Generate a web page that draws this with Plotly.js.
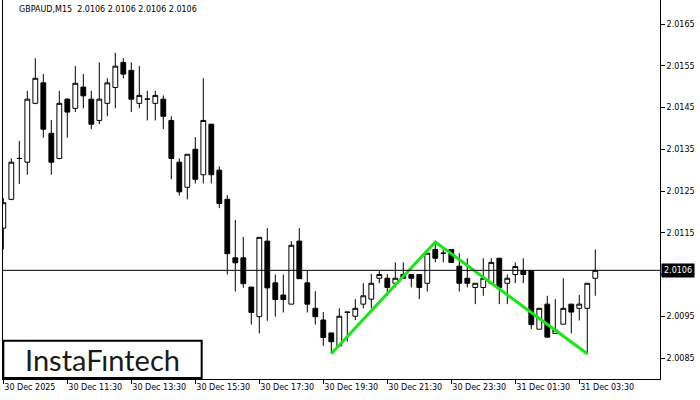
<!DOCTYPE html>
<html>
<head>
<meta charset="utf-8">
<script src="https://cdn.plot.ly/plotly-3.0.1.min.js"></script>
<style>html,body{margin:0;padding:0;background:#fff;}#chart{width:700px;height:400px;}</style>
</head>
<body>
<div id="chart"></div>
<script>
// GBPAUD M15, 30 Dec 2025 09:30 -> 31 Dec 2025 04:00 (one bar per 15 minutes)
const openP  = [2.01161,2.01230,2.01328,2.01319,2.01460,2.01509,2.01388,2.01328,2.01470,2.01448,
                2.01499,2.01470,2.01419,2.01460,2.01498,2.01558,2.01539,2.01460,2.01470,2.01460,
                2.01470,2.01419,2.01319,2.01259,2.01350,2.01289,2.01410,2.01300,2.01230,2.01090,
                2.01090,2.01020,2.00949,2.01130,2.01030,2.01001,2.00979,2.01130,2.01030,2.00969,
                2.00941,2.00910,2.00879,2.00959,2.00950,2.00979,2.00991,2.01041,2.01041,2.01029,
                2.01050,2.01050,2.01050,2.01029,2.01110,2.01101,2.01110,2.01070,2.01041,2.01019,
                2.01019,2.01029,2.01089,2.01029,2.01050,2.01059,2.01059,2.00919,2.00979,2.00909,
                2.00931,2.00979,2.00969,2.00969,2.01041];
const highP  = [2.01233,2.01328,2.01370,2.01490,2.01568,2.01530,2.01420,2.01490,2.01472,2.01549,
                2.01530,2.01490,2.01558,2.01520,2.01581,2.01568,2.01558,2.01549,2.01490,2.01490,
                2.01479,2.01429,2.01328,2.01338,2.01379,2.01520,2.01410,2.01309,2.01240,2.01181,
                2.01140,2.01020,2.01139,2.01161,2.01050,2.01050,2.01130,2.01161,2.01060,2.01010,
                2.00960,2.00910,2.00969,2.00960,2.00991,2.01029,2.01051,2.01058,2.01051,2.01079,
                2.01079,2.01050,2.01050,2.01101,2.01129,2.01110,2.01110,2.01101,2.01089,2.01029,
                2.01089,2.01089,2.01089,2.01050,2.01079,2.01089,2.01059,2.00969,2.00999,2.00991,
                2.01041,2.00979,2.01001,2.01029,2.01110];
const lowP   = [2.01110,2.01228,2.01267,2.01289,2.01458,2.01378,2.01289,2.01326,2.01378,2.01439,
                2.01448,2.01398,2.01410,2.01429,2.01448,2.01520,2.01439,2.01448,2.01419,2.01419,
                2.01398,2.01278,2.01239,2.01230,2.01268,2.01268,2.01268,2.01209,2.01050,2.01009,
                2.01018,2.00930,2.00909,2.00939,2.00949,2.00959,2.00979,2.01040,2.00959,2.00930,
                2.00879,2.00861,2.00879,2.00889,2.00941,2.00969,2.00969,2.01029,2.00999,2.01019,
                2.01041,2.01019,2.00991,2.01009,2.01079,2.01079,2.01079,2.01009,2.01019,2.00979,
                2.00999,2.01029,2.00979,2.00979,2.01029,2.01029,2.00919,2.00919,2.00900,2.00909,
                2.00931,2.00909,2.00940,2.00860,2.00999];
const closeP = [2.01222,2.01319,2.01328,2.01470,2.01520,2.01398,2.01319,2.01460,2.01439,2.01508,
                2.01478,2.01410,2.01470,2.01509,2.01549,2.01530,2.01470,2.01479,2.01470,2.01479,
                2.01429,2.01328,2.01248,2.01338,2.01278,2.01419,2.01289,2.01220,2.01100,2.01078,
                2.01028,2.00959,2.01139,2.01018,2.00990,2.00990,2.01120,2.01040,2.00979,2.00949,
                2.00899,2.00889,2.00950,2.00960,2.00969,2.00999,2.01029,2.01050,2.01019,2.01041,
                2.01041,2.01041,2.01019,2.01101,2.01089,2.01101,2.01079,2.01029,2.01029,2.01029,
                2.01041,2.01079,2.01019,2.01041,2.01069,2.01050,2.00930,2.00969,2.00900,2.00917,
                2.00969,2.00960,2.00979,2.01029,2.01060];

// time-axis labels (every 8 bars = 2 hours)
const tickIdx    = [0, 8, 16, 24, 32, 40, 48, 56, 64, 72];
const tickLabels = ["30 Dec 2025","30 Dec 11:30","30 Dec 13:30","30 Dec 15:30","30 Dec 17:30",
                    "30 Dec 19:30","30 Dec 21:30","30 Dec 23:30","31 Dec 01:30","31 Dec 03:30"];

// price-axis labels
const priceTicks = [2.0085,2.0095,2.0105,2.0115,2.0125,2.0135,2.0145,2.0155,2.0165];
const priceTickText = ["2.0085","2.0095","2.0105","2.0115","2.0125","2.0135","2.0145","2.0155","2.0165"];

// double bottom pattern: bottom 1, neck peak, bottom 2
const patternIdx   = [41, 54, 73];
const patternPrice = [2.00860, 2.01128, 2.00860];

const lastPrice = 2.0106;
const titleText = "GBPAUD,M15  2.0106 2.0106 2.0106 2.0106";

const barIdx = openP.map((_, i) => i);
const FONT = "DejaVu Sans";

const traces = [
  {
    type: "candlestick",
    x: barIdx, open: openP, high: highP, low: lowP, close: closeP,
    increasing: {fillcolor: "#ffffff", line: {color: "#000000", width: 1}},
    decreasing: {fillcolor: "#000000", line: {color: "#000000", width: 1}},
    whiskerwidth: 0,
    hoverinfo: "skip",
    showlegend: false
  },
  {
    type: "scatter", mode: "lines",
    x: patternIdx, y: patternPrice,
    line: {color: "#19e619", width: 3},
    hoverinfo: "skip", showlegend: false
  }
];

const layout = {
  width: 700, height: 400,
  margin: {l: 3, r: 40, t: 0, b: 21, pad: 0},
  paper_bgcolor: "#ffffff", plot_bgcolor: "#ffffff",
  showlegend: false,
  boxgap: 0.4, boxgroupgap: 0,
  font: {family: FONT, size: 8, color: "#000000"},
  xaxis: {
    range: [-0.04, 82.09],
    rangeslider: {visible: false},
    tickmode: "array", tickvals: tickIdx, ticktext: tickLabels,
    ticks: "outside", ticklen: 4, tickcolor: "#000000", tickwidth: 1,
    ticklabelposition: "outside right",
    showline: true, linecolor: "#000000", linewidth: 1,
    showgrid: false, zeroline: false,
    tickfont: {family: FONT, size: 8, color: "#000000"}
  },
  yaxis: {
    side: "right",
    range: [2.007997, 2.017075],
    tickmode: "array", tickvals: priceTicks, ticktext: priceTickText,
    ticks: "outside", ticklen: 4, tickcolor: "#000000", tickwidth: 1,
    showline: true, mirror: true, linecolor: "#000000", linewidth: 1,
    showgrid: false, zeroline: false,
    tickfont: {family: FONT, size: 8, color: "#000000"}
  },
  shapes: [
    {type: "line", xref: "paper", x0: 0, x1: 1, yref: "y", y0: lastPrice, y1: lastPrice,
     line: {color: "#000000", width: 1}, layer: "above"},
    {type: "rect", xref: "paper", yref: "paper", x0: 0.0005, x1: 0.3024, y0: 0.0026, y1: 0.1011,
     fillcolor: "#ffffff", line: {color: "#000000", width: 2}, layer: "above"}
  ],
  annotations: [
    {text: titleText, xref: "paper", yref: "paper", x: 0.022, y: 0.974,
     xanchor: "left", yanchor: "middle", showarrow: false,
     font: {family: FONT, size: 8, color: "#000000"}},
    {text: String(lastPrice.toFixed(4)), xref: "paper", yref: "y", x: 1, y: lastPrice,
     xanchor: "left", yanchor: "middle", xshift: 1, showarrow: false,
     bgcolor: "#000000", borderpad: 2,
     font: {family: FONT, size: 8, color: "#ffffff"}},
    {text: "InstaFıntech", xref: "paper", yref: "paper", x: 0.1515, y: 0.052,
     xanchor: "center", yanchor: "middle", showarrow: false,
     font: {family: "Lato", size: 29, color: "#1a1a1a"}}
  ]
};

Plotly.newPlot("chart", traces, layout, {staticPlot: true, displayModeBar: false});
</script>
</body>
</html>
